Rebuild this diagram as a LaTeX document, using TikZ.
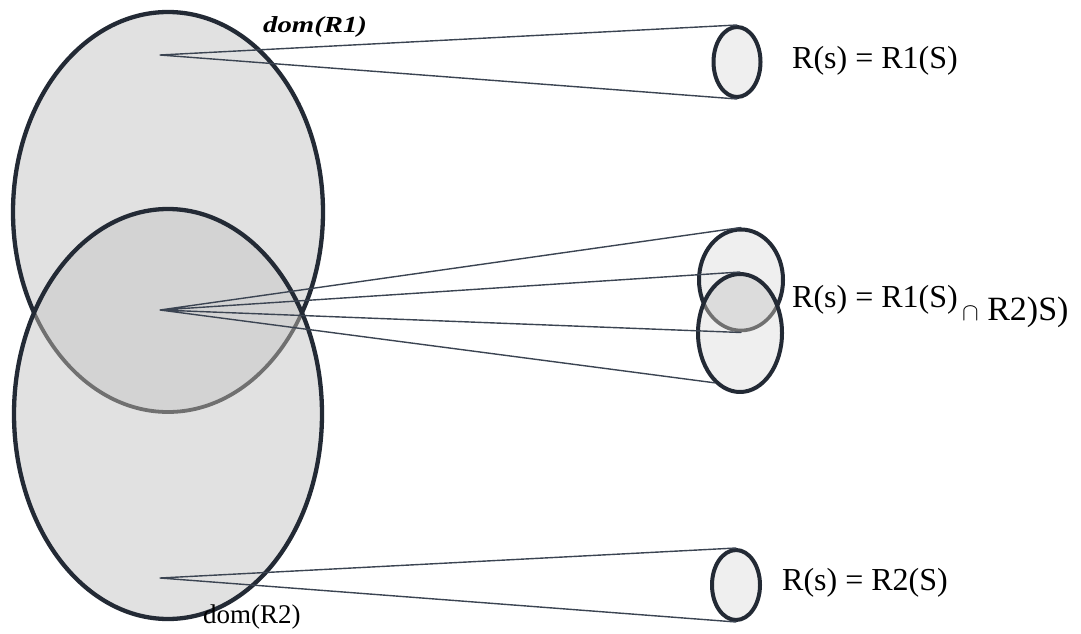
\documentclass[tikz,border=0pt]{standalone}
\usepackage{fontspec}
\setmainfont{Liberation Serif}
\newfontfamily\domfont{Liberation Serif}[FakeStretch=1.25]
\usetikzlibrary{shapes.geometric}

\definecolor{rim}{HTML}{232A35}
\definecolor{setfill}{HTML}{E1E1E1}
\definecolor{lensfill}{HTML}{D3D3D3}
\definecolor{hidden}{HTML}{707070}
\definecolor{ray}{HTML}{3B4452}
\definecolor{imgfill}{HTML}{EFEFEF}
\definecolor{imglens}{HTML}{DCDCDC}

\tikzset{
  domset/.style={ellipse, inner sep=0pt, draw=rim, line width=4.3pt, fill=setfill},
  img/.style={ellipse, inner sep=0pt, draw=rim, line width=4pt, fill=imgfill},
  rayline/.style={ray, line width=1.4pt},
  lbl/.style={anchor=base west, inner sep=0pt, font=\fontsize{32}{38}\selectfont},
}

\begin{document}
\begin{tikzpicture}[x=1pt,y=-1pt,line cap=round,line join=round]
\useasboundingbox (0,0) rectangle (1081,634);

% domains of R1 and R2, the overlap is shaded darker
\node[domset, minimum width=310pt, minimum height=400pt] (R1) at (168,212) {};
\node[domset, minimum width=308pt, minimum height=410pt,
  path picture={
    \fill[lensfill] (R1.center) ellipse [x radius=155pt, y radius=200pt];
    \draw[hidden, line width=3.8pt] (R1.center) ellipse [x radius=155pt, y radius=200pt];
  }] (R2) at (168,414) {};

% images
\node[img, minimum width=47pt, minimum height=70pt] (s1) at (737,62) {};
\node[img, minimum width=84pt, minimum height=101pt] (m1) at (741,280) {};
\node[img, minimum width=84pt, minimum height=118pt,
  path picture={
    \fill[imglens] (m1.center) ellipse [x radius=42pt, y radius=50.5pt];
    \draw[hidden, line width=3.6pt] (m1.center) ellipse [x radius=42pt, y radius=50.5pt];
  }] (m2) at (740,333) {};
\node[img, minimum width=48pt, minimum height=70pt] (s2) at (736,585) {};

% fans
\coordinate (c1) at (160,55);
\coordinate (c12) at (160,310);
\coordinate (c2) at (160,578);
\draw[rayline] (c1) -- (s1.north) (c1) -- (s1.south);
\draw[rayline] (c12) -- (m1.north) (c12) -- (m2.north)
               (c12) -- (m1.south) (c12) -- (m2.-117);
\draw[rayline] (c2) -- (s2.north) (c2) -- (s2.south);

% labels
\node[anchor=base west, inner sep=0pt,
  font=\domfont\bfseries\itshape\fontsize{23}{27}\selectfont] (d1) at (263,33) {dom(R1)};
\node[anchor=base west, inner sep=0pt, font=\fontsize{27}{32}\selectfont] (d2) at (203,623) {dom(R2)};
\node[lbl] (l1) at (792,68) {R(s) = R1(S)};
\node[lbl] (l12) at (792,307) {R(s) = R1(S)};
\node[lbl, font=\fontsize{34}{40}\selectfont] (l12b) at (962,320) {{\fontsize{30}{34}\selectfont$\cap$} R2)S)};
\node[lbl] (l2) at (782,590) {R(s) = R2(S)};
\end{tikzpicture}
\end{document}
